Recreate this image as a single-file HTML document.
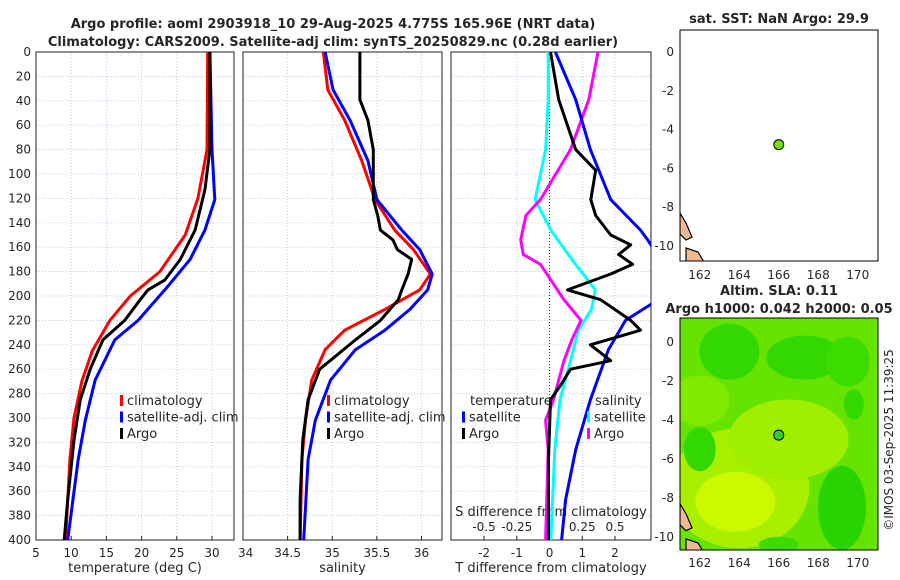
<!DOCTYPE html>
<html><head><meta charset="utf-8"><style>
body{margin:0;background:#fff}svg{display:block;font-family:"DejaVu Sans","Liberation Sans",sans-serif}
</style></head><body>
<svg id="c" width="900" height="580" xmlns="http://www.w3.org/2000/svg"></svg>
<script>
const depthT=[0,80,120,150,180,200,220,245,270,300,335,400];
const tempClim=[29.4,29.3,28.0,26.2,22.6,18.4,15.5,13.0,11.5,10.4,9.8,9.2];
const depthTS=[0,80,121,146,170,195,220,236,269,302,334,400];
const tempSat=[29.7,30.0,30.4,29.0,26.9,23.3,19.5,16.2,13.4,12.0,11.0,9.5];
const depthTA=[0,80,113,146,170,187,195,203,220,236,260,285,318,367,400];
const tempArgo=[29.7,29.7,29.0,27.6,25.5,23.3,20.9,19.8,17.6,14.5,12.7,11.3,10.4,9.5,9.0];
const depthSC=[0,31,56,89,121,146,162,182,195,211,228,244,269,302,334,400];
const salClim=[34.90,34.95,35.14,35.33,35.48,35.70,35.91,36.10,35.98,35.59,35.14,34.92,34.77,34.70,34.66,34.64];
const salSat=[34.92,35.01,35.20,35.40,35.50,35.78,35.98,36.12,36.07,35.87,35.59,35.26,34.98,34.81,34.73,34.68];
const depthSA=[0,39,56,80,121,134,146,154,162,170,182,195,203,220,236,260,285,318,367,400];
const salArgo=[35.31,35.31,35.40,35.46,35.46,35.51,35.54,35.68,35.73,35.89,35.85,35.78,35.74,35.54,35.26,34.86,34.73,34.67,34.64,34.64];
const depthD1=[0,39,80,121,146,154,175,200,220,244,285,326,367,400];
const tDiffSat=[0.18,0.8,1.25,1.87,2.78,3.0,3.5,3.5,2.32,1.8,1.25,0.8,0.49,0.37];
const depthD2=[0,39,80,97,121,134,150,158,166,174,182,195,203,220,228,240,253,260,273,285,334,400];
const tDiffArgo=[0.03,0.28,0.8,1.41,1.26,1.41,1.87,2.48,2.11,2.54,1.87,0.55,1.56,2.48,2.78,1.25,1.87,0.64,0.34,0.03,-0.03,-0.03];
const depthD3=[0,39,80,121,134,154,166,174,203,220,236,253,285,302,326,400];
const sDiffArgo=[0.37,0.30,0.16,-0.07,-0.18,-0.22,-0.20,-0.07,0.11,0.24,0.17,0.11,0.03,-0.03,-0.01,-0.03];
const depthD4=[0,39,80,121,146,170,195,211,228,253,285,326,400];
const sDiffSat=[-0.01,-0.01,-0.03,-0.11,0.01,0.17,0.35,0.32,0.22,0.16,0.08,0.04,0.01];
const depthTicks=[0,20,40,60,80,100,120,140,160,180,200,220,240,260,280,300,320,340,360,380,400];
const tempTicks=[5,10,15,20,25,30];
const salTicks=[34,34.5,35,35.5,36];
const tdTicks=[-2,-1,0,1,2];
const sdTicks=[-0.5,-0.25,0,0.25,0.5];
const lonTicks=[162,164,166,168,170];
const latTicks=[0,-2,-4,-6,-8,-10];
const argoLon=166, argoLat=-4.775;

const NS='http://www.w3.org/2000/svg', svg=document.getElementById('c');
function el(t,a,p){const e=document.createElementNS(NS,t);for(const k in a)e.setAttribute(k,a[k]);(p||svg).appendChild(e);return e;}
function txt(x,y,s,o,p){const e=el('text',Object.assign({x:x,y:y,'font-size':12,fill:'#262626'},o||{}),p);e.textContent=s;return e;}
const Y0=52,Y1=540;
const yD=d=>Y0+d*(Y1-Y0)/400;
function panel(name,x0,x1,lo,hi,ticks,lbl){
  const g=el('g',{});
  const sx=v=>x0+(v-lo)*(x1-x0)/(hi-lo);
  depthTicks.forEach(d=>{if(d>0&&d<400)el('line',{x1:x0,x2:x1,y1:yD(d),y2:yD(d),stroke:'#aab4dd','stroke-width':0.7,'stroke-dasharray':'1,2'},g);});
  ticks.forEach(v=>{const x=sx(v);if(x>x0+1&&x<x1-1)el('line',{x1:x,x2:x,y1:Y0,y2:Y1,stroke:'#aab4dd','stroke-width':0.7,'stroke-dasharray':'1,2'},g);
    txt(x,557,String(v),{'text-anchor':'middle'},g);el('line',{x1:x,x2:x,y1:Y1,y2:Y1-4,stroke:'#222'},g);});
  el('rect',{x:x0,y:Y0,width:x1-x0,height:Y1-Y0,fill:'none',stroke:'#222','stroke-width':1},g);
  txt((x0+x1)/2,572,lbl,{'text-anchor':'middle','font-size':13},g);
  return {g,sx};
}
function line(p,vals,deps,sx,col,name){const pts=vals.map((v,i)=>sx(v).toFixed(1)+','+yD(deps[i]).toFixed(1)).join(' ');
  const e=el('polyline',{points:pts,fill:'none',stroke:col,'stroke-width':3,'stroke-linejoin':'round','clip-path':'url(#'+p+')'});
  }
const defs=el('defs',{});
[['cp1',36,234],['cp2',243,442],['cp3',451,651]].forEach(c=>{const cp=el('clipPath',{id:c[0]},defs);el('rect',{x:c[1],y:Y0,width:c[2]-c[1],height:Y1-Y0},cp);});
const ya=el('g',{});
depthTicks.forEach(d=>txt(31,yD(d)+4,String(d),{'text-anchor':'end'},ya));
const P1=panel('temperature-panel',36,234,5,33.13,tempTicks,'temperature (deg C)');
txt(238,557,'34',{'text-anchor':'start'});
const P2=panel('salinity-panel',243,442,34,36.23,salTicks.slice(1),'salinity');
const P3=panel('difference-panel',451,651,-3.01,3.1,tdTicks,'T difference from climatology');
el('line',{x1:P3.sx(0),x2:P3.sx(0),y1:Y0,y2:Y1,stroke:'#333','stroke-width':1,'stroke-dasharray':'1,2'});
const sdx=v=>P3.sx(0)+v*131;
sdTicks.forEach(v=>txt(sdx(v),531,String(v),{'text-anchor':'middle'}));
txt(551,516,'S difference from climatology',{'text-anchor':'middle','font-size':13});
line('cp1',tempClim,depthT,P1.sx,'#f00','temp-climatology-line');
line('cp1',tempSat,depthTS,P1.sx,'#00f','temp-satellite-line');
line('cp1',tempArgo,depthTA,P1.sx,'#000','temp-argo-line');
line('cp2',salClim,depthSC,P2.sx,'#f00','sal-climatology-line');
line('cp2',salSat,depthSC,P2.sx,'#00f','sal-satellite-line');
line('cp2',salArgo,depthSA,P2.sx,'#000','sal-argo-line');
line('cp3',sDiffSat,depthD4,sdx,'#0ff','sdiff-satellite-line');
line('cp3',sDiffArgo,depthD3,sdx,'#f0f','sdiff-argo-line');
line('cp3',tDiffSat,depthD1,P3.sx,'#00f','tdiff-satellite-line');
line('cp3',tDiffArgo,depthD2,P3.sx,'#000','tdiff-argo-line');
function legend(x,y,items,name){const g=el('g',{});
  items.forEach((it,i)=>{const yy=y+i*16.5;if(it[1])el('rect',{x:x,y:yy-10,width:3,height:11,fill:it[1]},g);txt(x+(it[1]?7:0),yy,it[0],{'font-size':13},g);});}
legend(120,405,[['climatology','#f00'],['satellite-adj. clim','#00f'],['Argo','#000']],'temp-legend');
legend(327,405,[['climatology','#f00'],['satellite-adj. clim','#00f'],['Argo','#000']],'sal-legend');
legend(470,405,[['temperature',null]],'tdiff-legend-title');
legend(462,421.5,[['satellite','#00f'],['Argo','#000']],'tdiff-legend');
legend(595,405,[['salinity',null]],'sdiff-legend-title');
legend(587,421.5,[['satellite','#0ff'],['Argo','#f0f']],'sdiff-legend');
txt(333,28,'Argo profile: aoml 2903918_10 29-Aug-2025 4.775S 165.96E (NRT data)',{'text-anchor':'middle','font-weight':'bold','font-size':13});
txt(333,46,'Climatology: CARS2009. Satellite-adj clim: synTS_20250829.nc (0.28d earlier)',{'text-anchor':'middle','font-weight':'bold','font-size':13});
function map(name,y0,y1,latTop,latBot,fill){
  const g=el('g',{});
  const mx=l=>680+(l-161)*19.75, my=l=>y0+(latTop-l)*(y1-y0)/(latTop-latBot);
  const cid='m'+y0;const cp=el('clipPath',{id:cid},defs);el('rect',{x:680,y:y0,width:198,height:y1-y0},cp);
  el('rect',{x:680,y:y0,width:198,height:y1-y0,fill:fill},g);
  const inner=el('g',{'clip-path':'url(#'+cid+')'},g);
  return {g,inner,mx,my,y0,y1};
}
const M1=map('sst-map',30,261,1.13,-10.77,'#fff');
const M2=map('sla-map',318,550,1.23,-10.67,'#66e400');
[[164,-7.5,70,60,'#a8f000'],[166.5,-5,60,40,'#a0ee00'],[163.8,-8.2,40,30,'#ccf800'],[162,-3,30,25,'#80ea00'],
 [163.5,-0.5,30,28,'#33d800'],[167.3,-0.8,38,22,'#33d800'],[169.5,-1,22,25,'#3cdc00'],[162,-5.5,16,22,'#33d800'],[169.2,-8.5,24,42,'#28d400'],[169.8,-3.2,10,15,'#33d800'],[166,-10.4,20,8,'#3cdc00']].forEach(b=>{
  el('ellipse',{cx:M2.mx(b[0]),cy:M2.my(b[1]),rx:b[2],ry:b[3],fill:b[4]},M2.inner);});
[M1,M2].forEach((M,k)=>{
  el('path',{d:`M680,${M.my(-8.3)} l6,10 l6,14 l-6,3 l-6,-6 z M686,${M.my(-10.1)} l12,4 l6,10 l-18,0 z`,fill:'#f0b890',stroke:'#000','stroke-width':1.2},M.inner);
  el('rect',{x:680,y:M.y0,width:198,height:M.y1-M.y0,fill:'none',stroke:'#000'},M.g);
  const dot=el('circle',{cx:M.mx(argoLon),cy:M.my(argoLat),r:5,fill:k?'#33cc33':'#77dd00',stroke:'#000','stroke-width':1},M.g);
  
  lonTicks.forEach(l=>txt(M.mx(l),k?567:279,String(l),{'text-anchor':'middle'},M.g));
  latTicks.forEach(l=>txt(674,M.my(l)+4,String(l),{'text-anchor':'end'},M.g));
});
txt(779,23,'sat. SST: NaN Argo: 29.9',{'text-anchor':'middle','font-weight':'bold','font-size':13});
txt(779,295,'Altim. SLA: 0.11',{'text-anchor':'middle','font-weight':'bold','font-size':13});
txt(779,313,'Argo h1000: 0.042 h2000: 0.05',{'text-anchor':'middle','font-weight':'bold','font-size':13});
txt(0,0,'©IMOS 03-Sep-2025 11:39:25',{'text-anchor':'middle','font-size':12,transform:'translate(893,440) rotate(-90)'});
</script>
</body></html>
